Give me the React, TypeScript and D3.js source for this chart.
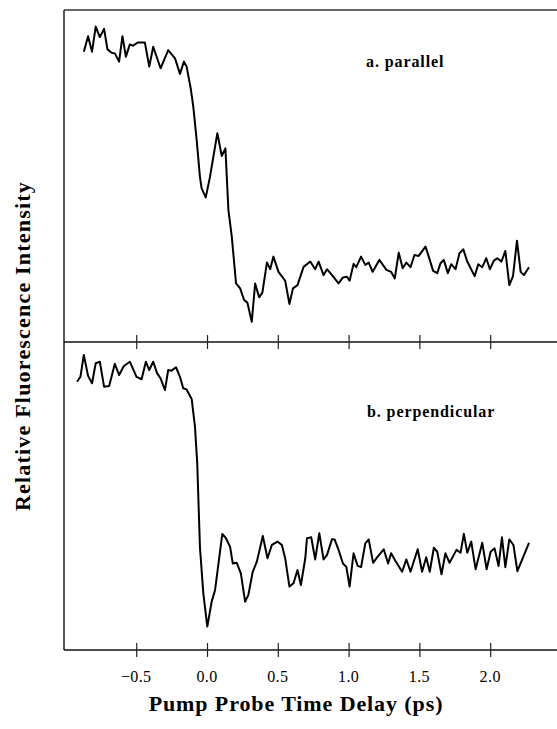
import React, { useEffect, useRef } from "react";
import * as d3 from "d3";

// parallel trace (time in ps, relative intensity)
const parallelTime = [
   -0.87, -0.84, -0.812, -0.786, -0.757, -0.727, -0.703, -0.674, -0.651, -0.621,
   -0.597, -0.573, -0.545, -0.522, -0.49, -0.439, -0.408, -0.38, -0.328, -0.274,
   -0.226, -0.191, -0.163, -0.144, -0.115, -0.097, -0.073, -0.05, -0.038, -0.009,
   0.021, 0.045, 0.073, 0.104, 0.13, 0.151, 0.175, 0.205, 0.234, 0.262,
   0.285, 0.316, 0.34, 0.368, 0.391, 0.423, 0.446, 0.469, 0.505, 0.552,
   0.582, 0.607, 0.639, 0.682, 0.729, 0.764, 0.788, 0.823, 0.847, 0.883,
   0.929, 0.96, 0.989, 1.007, 1.035, 1.054, 1.088, 1.118, 1.142, 1.17,
   1.217, 1.267, 1.3, 1.326, 1.354, 1.382, 1.408, 1.437, 1.465, 1.495,
   1.543, 1.566, 1.597, 1.626, 1.649, 1.672, 1.701, 1.725, 1.755, 1.783,
   1.81, 1.838, 1.89, 1.916, 1.944, 1.972, 1.998, 2.026, 2.05, 2.079,
   2.107, 2.135, 2.161, 2.189, 2.215, 2.238, 2.274,
];
const parallelSignal = [
   0.877, 0.924, 0.877, 0.953, 0.921, 0.946, 0.884, 0.874, 0.872, 0.847,
   0.924, 0.862, 0.899, 0.895, 0.905, 0.905, 0.832, 0.892, 0.827, 0.882,
   0.857, 0.81, 0.847, 0.832, 0.766, 0.711, 0.61, 0.499, 0.464, 0.437,
   0.499, 0.56, 0.631, 0.562, 0.585, 0.399, 0.318, 0.177, 0.162, 0.127,
   0.119, 0.061, 0.177, 0.135, 0.149, 0.24, 0.22, 0.258, 0.212, 0.185,
   0.115, 0.162, 0.172, 0.227, 0.243, 0.22, 0.243, 0.202, 0.22, 0.202,
   0.177, 0.195, 0.197, 0.185, 0.236, 0.226, 0.258, 0.233, 0.24, 0.212,
   0.248, 0.218, 0.212, 0.192, 0.27, 0.223, 0.24, 0.226, 0.263, 0.26,
   0.288, 0.258, 0.215, 0.208, 0.238, 0.248, 0.208, 0.235, 0.22, 0.268,
   0.28, 0.243, 0.199, 0.235, 0.226, 0.253, 0.22, 0.246, 0.253, 0.243,
   0.275, 0.172, 0.199, 0.306, 0.212, 0.202, 0.226,
];

// perpendicular trace
const perpendicularTime = [
   -0.918, -0.894, -0.87, -0.84, -0.812, -0.786, -0.757, -0.727, -0.691, -0.651,
   -0.621, -0.587, -0.545, -0.498, -0.462, -0.432, -0.408, -0.38, -0.352, -0.328,
   -0.297, -0.274, -0.25, -0.219, -0.191, -0.168, -0.144, -0.108, -0.085, -0.069,
   -0.05, -0.026, 0.002, 0.033, 0.057, 0.108, 0.134, 0.163, 0.182, 0.21,
   0.239, 0.269, 0.292, 0.323, 0.352, 0.394, 0.427, 0.458, 0.498, 0.529,
   0.552, 0.582, 0.611, 0.639, 0.663, 0.694, 0.706, 0.736, 0.764, 0.793,
   0.823, 0.847, 0.883, 0.901, 0.929, 0.96, 0.984, 1.007, 1.035, 1.064,
   1.088, 1.118, 1.142, 1.173, 1.205, 1.248, 1.279, 1.3, 1.33, 1.378,
   1.408, 1.437, 1.488, 1.519, 1.548, 1.573, 1.602, 1.626, 1.656, 1.684,
   1.713, 1.762, 1.791, 1.814, 1.838, 1.866, 1.897, 1.944, 1.975, 2.003,
   2.031, 2.059, 2.083, 2.107, 2.135, 2.164, 2.192, 2.274,
];
const perpendicularSignal = [
   0.871, 0.887, 0.958, 0.89, 0.866, 0.931, 0.936, 0.855, 0.857, 0.929,
   0.893, 0.922, 0.936, 0.887, 0.879, 0.936, 0.909, 0.936, 0.898, 0.882,
   0.844, 0.909, 0.907, 0.918, 0.887, 0.85, 0.846, 0.814, 0.725, 0.606,
   0.335, 0.184, 0.076, 0.157, 0.195, 0.377, 0.363, 0.335, 0.281, 0.283,
   0.249, 0.157, 0.179, 0.254, 0.287, 0.37, 0.298, 0.341, 0.352, 0.341,
   0.298, 0.206, 0.217, 0.26, 0.211, 0.298, 0.363, 0.366, 0.294, 0.379,
   0.294, 0.308, 0.36, 0.359, 0.325, 0.281, 0.27, 0.206, 0.314, 0.273,
   0.269, 0.346, 0.359, 0.283, 0.303, 0.327, 0.281, 0.314, 0.29, 0.254,
   0.294, 0.254, 0.327, 0.254, 0.301, 0.254, 0.332, 0.319, 0.246, 0.314,
   0.283, 0.325, 0.316, 0.377, 0.316, 0.352, 0.262, 0.348, 0.262, 0.319,
   0.33, 0.273, 0.366, 0.269, 0.359, 0.341, 0.256, 0.348,
];

const tickValues = [-0.5, 0.0, 0.5, 1.0, 1.5, 2.0];

const serif = "'Liberation Serif', 'Times New Roman', serif";

const App = () => {
   const svgRef = useRef(null);

   useEffect(() => {
      const svg = d3.select(svgRef.current);
      svg.selectAll("*").remove();

      const width = 557;
      const left = 64;
      const top = 10;
      const mid = 342;
      const bottom = 650;

      const x = d3.scaleLinear().domain([-1.01, 2.5]).range([left, 561]);
      const yTop = d3.scaleLinear().domain([0, 1]).range([mid, 11]);
      const yBottom = d3.scaleLinear().domain([0, 1]).range([bottom, mid]);

      // frame lines
      svg.append("line")
         .attr("x1", left).attr("x2", width)
         .attr("y1", top).attr("y2", top)
         .attr("stroke", "#333").attr("stroke-width", 1.3);
      svg.append("line")
         .attr("x1", left).attr("x2", left)
         .attr("y1", top).attr("y2", bottom)
         .attr("stroke", "#222").attr("stroke-width", 1.5);

      // shared x axes on the middle and bottom lines, ticks cross the line
      [mid, bottom].forEach((yy) => {
         const g = svg.append("g").attr("transform", `translate(0,${yy})`);
         g.call(
            d3.axisBottom(x).tickValues(tickValues).tickSize(0).tickFormat(() => "")
         );
         g.select(".domain")
            .attr("d", `M${left},0H${width + 4}`)
            .attr("stroke", "#111")
            .attr("stroke-width", 1.5);
         g.selectAll(".tick line")
            .attr("y1", -7).attr("y2", 7)
            .attr("stroke", "#222").attr("stroke-width", 1.2);
      });

      // tick labels under bottom axis
      svg.append("g")
         .selectAll("text")
         .data(tickValues)
         .enter()
         .append("text")
         .attr("x", (d) => x(d))
         .attr("y", 682)
         .attr("text-anchor", "middle")
         .style("font-family", serif)
         .style("font-size", "16px")
         .style("letter-spacing", "0.4px")
         .text((d) => d3.format(".1f")(d));

      const lineTop = d3.line()
         .x((d) => x(d[0]))
         .y((d) => yTop(d[1]));
      const lineBottom = d3.line()
         .x((d) => x(d[0]))
         .y((d) => yBottom(d[1]));

      svg.append("path")
         .datum(d3.zip(parallelTime, parallelSignal))
         .attr("d", lineTop)
         .attr("fill", "none")
         .attr("stroke", "#000")
         .attr("stroke-width", 2)
         .attr("stroke-linejoin", "round");

      svg.append("path")
         .datum(d3.zip(perpendicularTime, perpendicularSignal))
         .attr("d", lineBottom)
         .attr("fill", "none")
         .attr("stroke", "#000")
         .attr("stroke-width", 2)
         .attr("stroke-linejoin", "round");

      // panel labels
      svg.append("text")
         .attr("x", 366).attr("y", 67)
         .style("font-family", serif)
         .style("font-weight", "bold")
         .style("font-size", "16px")
         .style("letter-spacing", "0.9px")
         .text("a. parallel");
      svg.append("text")
         .attr("x", 367).attr("y", 417)
         .style("font-family", serif)
         .style("font-weight", "bold")
         .style("font-size", "16px")
         .style("letter-spacing", "0.9px")
         .text("b. perpendicular");

      // axis titles
      svg.append("text")
         .attr("x", 296).attr("y", 711)
         .attr("text-anchor", "middle")
         .style("font-family", serif)
         .style("font-weight", "bold")
         .style("font-size", "22px")
         .style("letter-spacing", "0.9px")
         .text("Pump Probe Time Delay (ps)");
      svg.append("text")
         .attr("transform", "translate(30,346) rotate(-90)")
         .attr("text-anchor", "middle")
         .style("font-family", serif)
         .style("font-weight", "bold")
         .style("font-size", "22px")
         .style("letter-spacing", "1.2px")
         .text("Relative Fluorescence Intensity");
   }, []);

   return (
      <svg
         ref={svgRef}
         width={557}
         height={729}
         style={{ position: "absolute", left: 0, top: 0, background: "#fff" }}
      ></svg>
   );
};

export default App;
